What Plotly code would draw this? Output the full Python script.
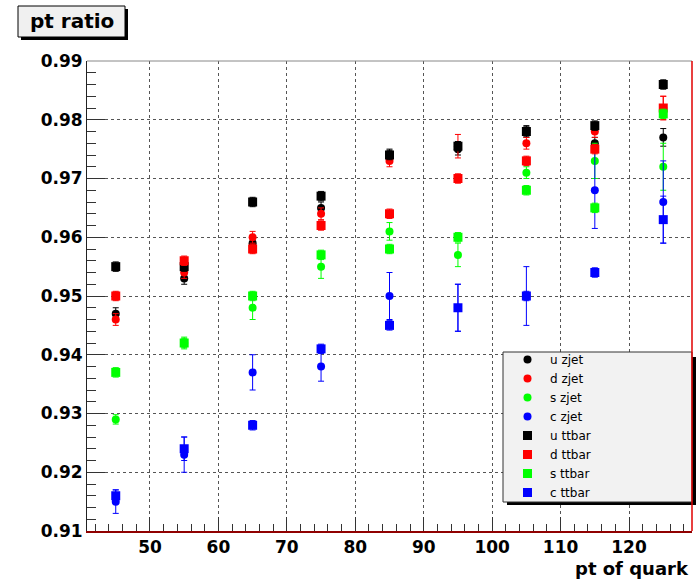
import plotly.graph_objects as go

# ---------------- data ----------------
pt = [45, 55, 65, 75, 85, 95, 105, 115, 125]

u_zjet = [0.947, 0.953, 0.959, 0.965, 0.974, 0.975, 0.978, 0.976, 0.977]
d_zjet = [0.946, 0.954, 0.960, 0.964, 0.973, 0.9755, 0.976, 0.978, 0.982]
s_zjet = [0.929, 0.942, 0.948, 0.955, 0.961, 0.957, 0.971, 0.973, 0.972]
c_zjet = [0.915, 0.923, 0.937, 0.938, 0.950, 0.948, 0.950, 0.968, 0.966]
u_ttbar = [0.955, 0.955, 0.966, 0.967, 0.974, 0.9755, 0.978, 0.979, 0.986]
d_ttbar = [0.950, 0.956, 0.958, 0.962, 0.964, 0.970, 0.973, 0.975, 0.982]
s_ttbar = [0.937, 0.942, 0.950, 0.957, 0.958, 0.960, 0.968, 0.965, 0.981]
c_ttbar = [0.916, 0.924, 0.928, 0.941, 0.945, 0.948, 0.950, 0.954, 0.963]

u_zjet_err = [0.001, 0.001, 0.001, 0.001, 0.001, 0.001, 0.001, 0.001, 0.0015]
d_zjet_err = [0.001, 0.001, 0.001, 0.001, 0.001, 0.002, 0.001, 0.001, 0.002]
s_zjet_err = [0.0008, 0.001, 0.002, 0.002, 0.0015, 0.002, 0.001, 0.003, 0.004]
c_zjet_err = [0.002, 0.003, 0.003, 0.0025, 0.004, 0.004, 0.005, 0.0065, 0.007]
u_ttbar_err = [0.0008, 0.0008, 0.0008, 0.0008, 0.0008, 0.0008, 0.0008, 0.0008, 0.0008]
d_ttbar_err = [0.0008, 0.0008, 0.0008, 0.0008, 0.0008, 0.0008, 0.0008, 0.0008, 0.002]
s_ttbar_err = [0.0008, 0.0008, 0.0008, 0.0008, 0.0008, 0.0008, 0.0008, 0.0008, 0.0008]
c_ttbar_err = [0.001, 0.002, 0.0008, 0.0008, 0.0008, 0.004, 0.0008, 0.0008, 0.004]

series = [
    ("u zjet", u_zjet, u_zjet_err, "#000000", "circle"),
    ("d zjet", d_zjet, d_zjet_err, "#ff0000", "circle"),
    ("s zjet", s_zjet, s_zjet_err, "#00ff00", "circle"),
    ("c zjet", c_zjet, c_zjet_err, "#0000ff", "circle"),
    ("u ttbar", u_ttbar, u_ttbar_err, "#000000", "square"),
    ("d ttbar", d_ttbar, d_ttbar_err, "#ff0000", "square"),
    ("s ttbar", s_ttbar, s_ttbar_err, "#00ff00", "square"),
    ("c ttbar", c_ttbar, c_ttbar_err, "#0000ff", "square"),
]

x_ticks = [50, 60, 70, 80, 90, 100, 110, 120]
y_ticks = [0.91, 0.92, 0.93, 0.94, 0.95, 0.96, 0.97, 0.98, 0.99]

# ---------------- figure ----------------
W, H = 699, 581
L, R, T, B = 87, 7, 61, 50
PW, PH = W - L - R, H - T - B


def px(xp):
    return (xp - L) / PW


def py(yp):
    return (H - B - yp) / PH


fig = go.Figure()
for name, vals, errs, col, sym in series:
    fig.add_trace(go.Scatter(
        x=pt, y=vals, name=name, mode="markers",
        marker=dict(symbol=sym, color=col, size=8 if sym == "circle" else 9,
                    line=dict(width=0)),
        error_y=dict(type="data", array=errs, visible=True, color=col,
                     thickness=1, width=3),
    ))

shapes = []
# title box shadow + box
shapes.append(dict(type="rect", xref="paper", yref="paper",
                   x0=px(21), x1=px(128), y0=py(40), y1=py(9),
                   fillcolor="#000000", line=dict(width=0), layer="above"))
shapes.append(dict(type="rect", xref="paper", yref="paper",
                   x0=px(18), x1=px(125), y0=py(37), y1=py(6),
                   fillcolor="#f0f0f0", line=dict(color="#000000", width=1),
                   layer="above"))
# legend box shadow + box
shapes.append(dict(type="rect", xref="paper", yref="paper",
                   x0=px(507), x1=px(696), y0=py(505), y1=py(357),
                   fillcolor="#000000", line=dict(width=0), layer="above"))
shapes.append(dict(type="rect", xref="paper", yref="paper",
                   x0=px(503), x1=px(692), y0=py(502), y1=py(352),
                   fillcolor="#f2f2f2", line=dict(color="#333333", width=1),
                   layer="above"))
# frame top (grey) and right (red)
shapes.append(dict(type="line", xref="paper", yref="paper",
                   x0=0, x1=1, y0=1, y1=1,
                   line=dict(color="#888888", width=1), layer="above"))
shapes.append(dict(type="line", xref="paper", yref="paper",
                   x0=1, x1=1, y0=0, y1=1,
                   line=dict(color="#e00000", width=1.5), layer="above"))

annotations = [
    dict(text="pt ratio", xref="paper", yref="paper", x=px(71.5), y=py(21.5),
         xanchor="center", yanchor="middle", showarrow=False,
         font=dict(family="DejaVu Sans", size=20, color="#000000", weight="bold")),
    dict(text="pt of quark", xref="paper", yref="paper", x=px(691), y=py(568),
         xanchor="right", yanchor="middle", showarrow=False,
         font=dict(family="DejaVu Sans", size=18, color="#000000", weight="bold")),
]

fig.update_layout(
    width=W, height=H,
    margin=dict(l=L, r=R, t=T, b=B, pad=0),
    paper_bgcolor="#ffffff", plot_bgcolor="#ffffff",
    showlegend=True,
    legend=dict(x=px(505), y=py(345), xanchor="left", yanchor="top",
                bgcolor="rgba(0,0,0,0)", borderwidth=0,
                font=dict(family="DejaVu Sans", size=12, color="#000000"),
                itemwidth=35,
                itemclick=False, tracegroupgap=0),
    shapes=shapes, annotations=annotations,
    xaxis=dict(range=[40.8, 129.2], tickvals=x_ticks, ticktext=[str(v) for v in x_ticks],
               ticks="inside", ticklen=14, tickcolor="#333333",
               minor=dict(dtick=2, tick0=0, ticks="inside", ticklen=7, tickcolor="#333333",
                          showgrid=False),
               showgrid=True, gridcolor="#555555", griddash="dot", gridwidth=1,
               showline=True, linecolor="#900000", linewidth=1.5,
               zeroline=False,
               tickfont=dict(family="DejaVu Sans", size=17, color="#000000", weight="bold")),
    yaxis=dict(range=[0.91, 0.99], tickvals=y_ticks,
               ticktext=["%.2f" % v for v in y_ticks],
               ticks="inside", ticklen=18, tickcolor="#333333",
               minor=dict(dtick=0.002, tick0=0.91, ticks="inside", ticklen=9,
                          tickcolor="#333333", showgrid=False),
               showgrid=True, gridcolor="#555555", griddash="dot", gridwidth=1,
               showline=True, linecolor="#222222", linewidth=1,
               zeroline=False,
               tickfont=dict(family="DejaVu Sans", size=17, color="#000000", weight="bold")),
)

fig.write_html("out.html")
